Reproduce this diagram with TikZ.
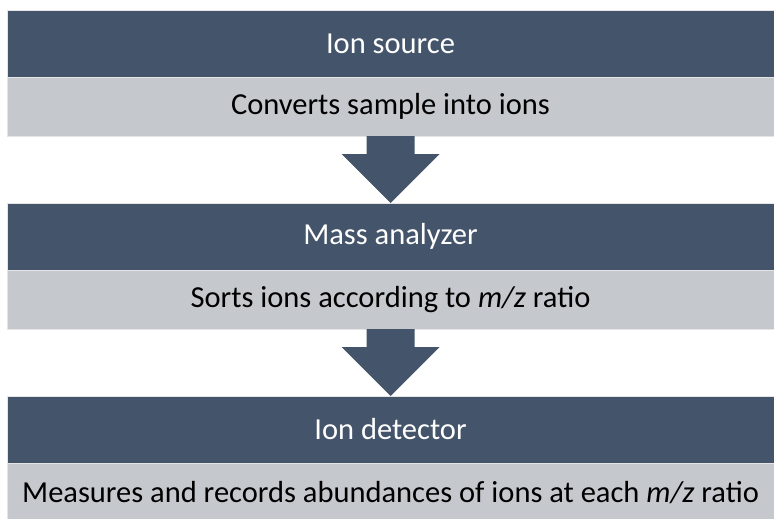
\documentclass[tikz,border=0pt]{standalone}
\usepackage{fontspec}
\setmainfont{Carlito}
\usetikzlibrary{positioning,calc}
\definecolor{slate}{HTML}{44546A}
\definecolor{mist}{HTML}{C5C8CD}
\tikzset{
  stagebar/.style={rectangle, fill=slate, draw=black!10, line width=0.6pt, text=white,
    minimum width=767pt, minimum height=67pt, inner sep=0pt, outer sep=0pt,
    font=\fontsize{30.5}{35}\selectfont},
  notebar/.style={stagebar, fill=mist, text=black, minimum height=59pt},
  flow/.style={fill=slate}
}
\begin{document}
\begin{tikzpicture}[x=1pt,y=1pt]
  \useasboundingbox (0,0) rectangle (774,-519);
  \foreach \n/\y/\s/\d in {1/10/{Ion source}/{Converts sample into ions},
      2/203/{Mass analyzer}/{Sorts ions according to \emph{m/z} ratio},
      3/396/{Ion detector}/{Measures and records abundances of ions at each \emph{m/z} ratio}}{
    \node[stagebar, anchor=north west] (stage\n) at (7,-\y) {\s};
    \node[notebar, below=0pt of stage\n] (note\n) {\d};
  }
  % block arrows from each note down to the next stage
  \foreach \a/\b in {1/2, 2/3}{
    \fill[flow] ($(note\a.south)+(-24,0)$) -- ++(48,0) -- ++(0,-18) -- ++(25,0)
      -- (stage\b.north) -- ($(note\a.south)+(-49,-18)$) -- ++(25,0) -- cycle;
  }
\end{tikzpicture}
\end{document}
